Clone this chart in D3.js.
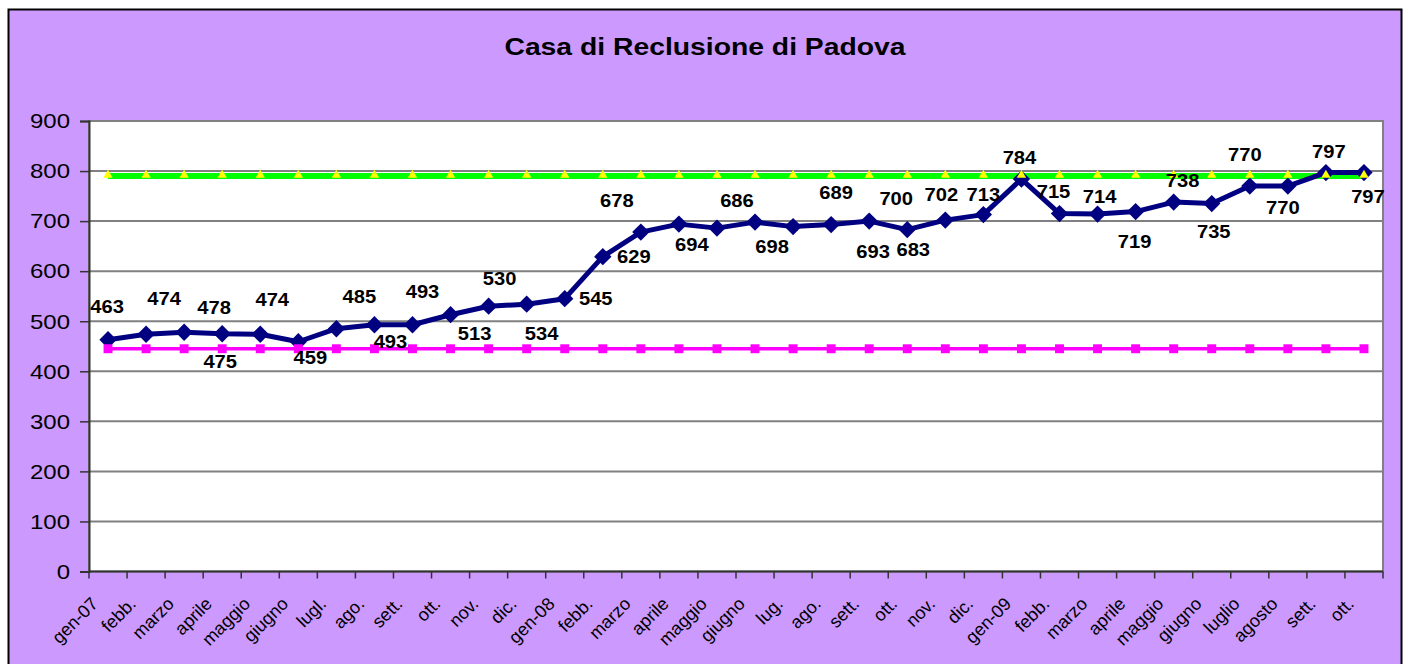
<!DOCTYPE html>
<html>
<head>
<meta charset="utf-8">
<script src="https://cdn.jsdelivr.net/npm/d3@7"></script>
<style>
  html, body { margin: 0; padding: 0; background: #fff; }
  svg { display: block; font-family: "Liberation Sans", Arial, sans-serif; }
</style>
</head>
<body>
<svg id="chart" width="1407" height="664"></svg>
<script>
// months on the x axis (gen-07 .. ott. 2009)
const months = ["gen-07","febb.","marzo","aprile","maggio","giugno","lugl.","ago.","sett.","ott.","nov.","dic.",
                "gen-08","febb.","marzo","aprile","maggio","giugno","lug.","ago.","sett.","ott.","nov.","dic.",
                "gen-09","febb.","marzo","aprile","maggio","giugno","luglio","agosto","sett.","ott."];
// detenuti presenti
const presenti = [463,474,478,475,474,459,485,493,493,513,530,534,
                  545,629,678,694,686,698,689,693,700,683,702,713,
                  784,715,714,719,738,735,770,770,797,797];
// capienza tollerabile / regolamentare
const tollerabile = 790;
const regolamentare = 445;
const yTicks = [0,100,200,300,400,500,600,700,800,900];
// where each value label sits relative to its point (dx, dy)
const labelShift = [[-1,-33],[18,-35],[30,-24],[-2,28],[12,-34],[12,16],[23,-32],[16,17],[10,-33],[24,19],
                    [11,-27],[15,30],[31,0],[31,0],[-24,-31],[13,21],[20,-27],[17,25],[43,-34],[42,27],
                    [27,-22],[6,20],[-4,-25],[0,-20],[-2,-21],[-6,-22],[2,-17],[-1,30],[9,-21],[2,28],
                    [-5,-31],[-5,22],[3,-21],[4,24]];

function drawTheGraph(){
  const svg = d3.select("#chart");
  const margin = { top: 121, left: 89, right: 1383, bottom: 571.5 };

  // purple background with black frame
  svg.append("rect").attr("x", 8.5).attr("y", 9.5).attr("width", 1393).attr("height", 700)
     .attr("fill", "#cc99ff").attr("stroke", "#000").attr("stroke-width", 2);

  svg.append("text")
     .attr("transform", "translate(705,55) scale(1.18,1)")
     .attr("text-anchor", "middle")
     .style("font-weight", "bold").style("font-size", "24px")
     .text("Casa di Reclusione di Padova");

  const x = d3.scaleBand().domain(d3.range(months.length)).range([margin.left, margin.right]);
  const cx = i => x(i) + x.bandwidth() / 2;
  const y = d3.scaleLinear().domain([0, 900]).range([margin.bottom, margin.top]);

  // plot area
  svg.append("rect").attr("x", margin.left).attr("y", margin.top)
     .attr("width", margin.right - margin.left).attr("height", margin.bottom - margin.top)
     .attr("fill", "#fff").attr("stroke", "#808080").attr("stroke-width", 2);

  // gridlines
  svg.append("g").selectAll("line").data(yTicks.slice(1)).enter().append("line")
     .attr("x1", margin.left).attr("x2", margin.right)
     .attr("y1", d => y(d)).attr("y2", d => y(d))
     .attr("stroke", "#808080").attr("stroke-width", 2);

  // y axis
  const yAxis = svg.append("g").attr("transform", `translate(${margin.left},0)`)
     .call(d3.axisLeft(y).tickValues(yTicks).tickSize(9).tickPadding(0));
  yAxis.select(".domain").attr("stroke", "#333").attr("stroke-width", 2);
  yAxis.selectAll(".tick line").attr("stroke", "#333").attr("stroke-width", 1.5);
  yAxis.selectAll(".tick text")
     .attr("x", null).attr("dy", null)
     .attr("transform", "translate(-19,0) scale(1.2,1)")
     .attr("dominant-baseline", "central")
     .style("font-size", "20px").style("font-family", "Liberation Sans, Arial, sans-serif")
     .attr("fill", "#000");

  // x axis with ticks on the month boundaries
  const bounds = d3.range(months.length + 1).map(i => margin.left + i * x.step());
  svg.append("line").attr("x1", margin.left).attr("x2", margin.right)
     .attr("y1", margin.bottom).attr("y2", margin.bottom)
     .attr("stroke", "#333").attr("stroke-width", 2);
  svg.append("g").selectAll("line").data(bounds).enter().append("line")
     .attr("x1", d => d).attr("x2", d => d)
     .attr("y1", margin.bottom).attr("y2", margin.bottom + 7)
     .attr("stroke", "#333").attr("stroke-width", 1.5);
  svg.append("g").selectAll("text").data(months).enter().append("text")
     .attr("transform", (d, i) => `translate(${cx(i) - 9},605) rotate(-45)`)
     .attr("text-anchor", "end")
     .style("font-size", "18px")
     .text(d => d);

  const line = d3.line().x((d, i) => cx(i)).y(d => y(d));

  // capienza lines
  const green = months.map(() => tollerabile);
  const pink = months.map(() => regolamentare);
  svg.append("path").datum(green).attr("d", line)
     .attr("fill", "none").attr("stroke", "#00ff00").attr("stroke-width", 6);
  svg.append("path").datum(pink).attr("d", line)
     .attr("fill", "none").attr("stroke", "#ff00ff").attr("stroke-width", 3.5);

  // presenze
  svg.append("path").datum(presenti).attr("d", line)
     .attr("fill", "none").attr("stroke", "#000080").attr("stroke-width", 5)
     .attr("stroke-linejoin", "round");

  const diamond = d3.symbol().type(d3.symbolSquare).size(150);
  svg.append("g").selectAll("path").data(presenti).enter().append("path")
     .attr("d", diamond)
     .attr("transform", (d, i) => `translate(${cx(i)},${y(d)}) rotate(45)`)
     .attr("fill", "#000080");

  const square = d3.symbol().type(d3.symbolSquare).size(80);
  svg.append("g").selectAll("path").data(pink).enter().append("path")
     .attr("d", square)
     .attr("transform", (d, i) => `translate(${cx(i)},${y(d)})`)
     .attr("fill", "#ff00ff");

  const tri = d3.symbol().type(d3.symbolTriangle).size(38);
  svg.append("g").selectAll("path").data(green).enter().append("path")
     .attr("d", tri)
     .attr("transform", (d, i) => `translate(${cx(i)},${y(d) - 1})`)
     .attr("fill", "#ffff00");

  // value labels
  svg.append("g").selectAll("text").data(presenti).enter().append("text")
     .attr("transform", (d, i) => `translate(${cx(i) + labelShift[i][0]},${y(d) + labelShift[i][1]}) scale(1.12,1)`)
     .attr("text-anchor", "middle")
     .attr("dominant-baseline", "central")
     .style("font-weight", "bold").style("font-size", "18px")
     .text(d => d);
}
drawTheGraph();
</script>
</body>
</html>
